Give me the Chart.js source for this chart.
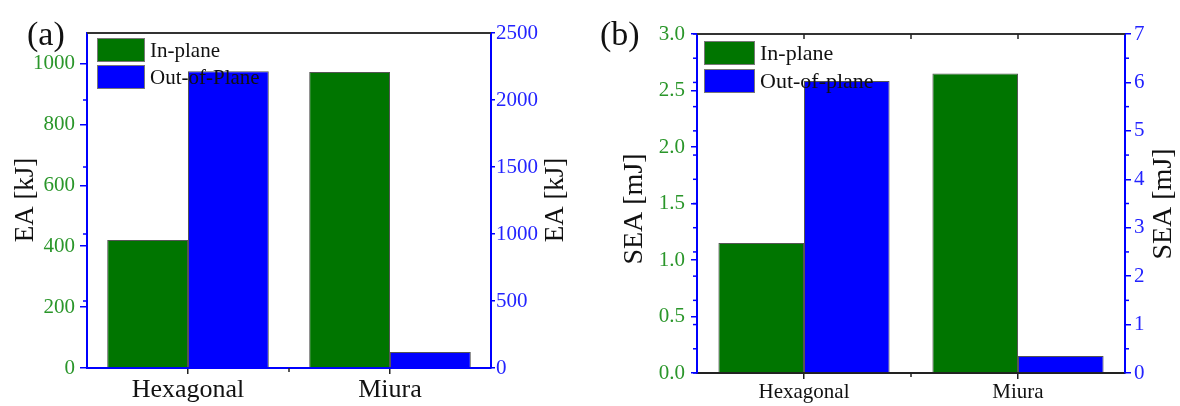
<!DOCTYPE html>
<html>
<head>
<meta charset="utf-8">
<script src="https://cdn.jsdelivr.net/npm/chart.js@4.4.0/dist/chart.umd.min.js"></script>
<style>
  body { margin: 0; background: #fff; }
  .panel { position: absolute; top: 0; width: 590px; height: 406px; }
</style>
</head>
<body>
<div class="panel" style="left:0"><canvas id="chartEA"></canvas></div>
<div class="panel" style="left:590px"><canvas id="chartSEA"></canvas></div>
<script>
// datos
const categorias = ['Hexagonal', 'Miura'];
const eaInPlane = [420, 972];          // kJ, eje izquierdo
const eaOutOfPlane = [2215, 120];      // kJ, eje derecho
const seaInPlane = [1.15, 2.65];       // mJ, eje izquierdo
const seaOutOfPlane = [6.03, 0.35];    // mJ, eje derecho

const eaTicksIzq = [0, 200, 400, 600, 800, 1000];
const eaTicksDer = [0, 500, 1000, 1500, 2000, 2500];
const seaTicksIzq = [0, 0.5, 1.0, 1.5, 2.0, 2.5, 3.0];
const seaTicksDer = [0, 1, 2, 3, 4, 5, 6, 7];
const seaMenoresDer = [0.5, 1.5, 2.5, 3.5, 4.5, 5.5, 6.5];

const VERDE = '#007500';
const AZUL = '#0000ff';
const VERDE_TXT = '#2a962a';
const AZUL_TXT = '#2323ff';
const SERIF = "'Liberation Serif', 'Times New Roman', serif";

Chart.defaults.animation = false;
Chart.defaults.font.family = SERIF;

// marco, ticks extra, leyenda y títulos
const decoracion = {
    id: 'decoracion',
    afterDraw(chart, args, o) {
        const ctx = chart.ctx;
        const a = chart.chartArea;
        ctx.save();

        // linea superior
        ctx.strokeStyle = '#333';
        ctx.lineWidth = 2;
        ctx.beginPath();
        ctx.moveTo(a.left, a.top);
        ctx.lineTo(a.right, a.top);
        ctx.stroke();

        // ticks adicionales
        o.ticksExtra.forEach(t => {
            const s = chart.scales[t.escala];
            ctx.strokeStyle = t.color;
            ctx.lineWidth = 1.5;
            t.valores.forEach(v => {
                const p = s.getPixelForValue(v);
                ctx.beginPath();
                if (t.lado === 'izq') { ctx.moveTo(a.left, p); ctx.lineTo(a.left - t.largo, p); }
                if (t.lado === 'der') { ctx.moveTo(a.right, p); ctx.lineTo(a.right + t.largo, p); }
                if (t.lado === 'arriba') { ctx.moveTo(p, a.top); ctx.lineTo(p, a.top + t.largo); }
                if (t.lado === 'abajo') { ctx.moveTo(p, a.bottom); ctx.lineTo(p, a.bottom + t.largo); }
                ctx.stroke();
            });
        });

        // leyenda
        const L = o.leyenda;
        ctx.font = L.fuente + 'px ' + SERIF;
        ctx.textBaseline = 'middle';
        ctx.textAlign = 'left';
        chart.data.datasets.forEach((ds, i) => {
            const y = L.y + i * (L.alto + L.sep);
            ctx.fillStyle = ds.backgroundColor;
            ctx.fillRect(L.x, y, L.ancho, L.alto);
            ctx.strokeStyle = '#777';
            ctx.lineWidth = 1;
            ctx.strokeRect(L.x + 0.5, y + 0.5, L.ancho - 1, L.alto - 1);
            ctx.fillStyle = '#111';
            ctx.fillText(ds.label, L.x + L.ancho + 5, y + L.alto / 2 + 1);
        });

        // títulos de ejes, girados
        ctx.fillStyle = '#111';
        ctx.textAlign = 'center';
        o.titulos.forEach(t => {
            ctx.save();
            ctx.translate(t.x, t.y);
            ctx.rotate(-Math.PI / 2);
            ctx.font = t.fuente + 'px ' + SERIF;
            ctx.fillText(t.texto, 0, 0);
            ctx.restore();
        });

        // letra del panel
        ctx.font = o.letra.fuente + 'px ' + SERIF;
        ctx.textAlign = 'left';
        ctx.fillText(o.letra.texto, o.letra.x, o.letra.y);
        ctx.restore();
    }
};

function ejeY(pos, min, max, ticks, color, ancho, fuente, decimales, largo, sep) {
    return {
        position: pos,
        min: min,
        max: max,
        z: 1,
        afterBuildTicks: s => { s.ticks = ticks.map(v => ({ value: v })); },
        afterFit: s => { s.width = ancho; },
        border: { color: AZUL, width: 2 },
        grid: { drawOnChartArea: false, tickLength: largo, color: AZUL, lineWidth: 1.5 },
        ticks: {
            color: color,
            font: { size: fuente },
            padding: sep,
            callback: v => v.toFixed(decimales)
        }
    };
}

function ejeX(colorBorde, alto, fuente) {
    return {
        offset: true,
        z: 1,
        afterFit: s => { s.height = alto; },
        border: { color: colorBorde, width: 2 },
        grid: { offset: false, drawOnChartArea: false, tickLength: 6, color: '#222', lineWidth: 1.5 },
        ticks: { color: '#111', font: { size: fuente }, padding: 1 }
    };
}

function barras(label, data, color, eje) {
    return {
        label: label,
        data: data,
        yAxisID: eje,
        backgroundColor: color,
        borderColor: '#555',
        borderWidth: 1,
        categoryPercentage: 0.8,
        barPercentage: 1.0
    };
}

new Chart(document.getElementById('chartEA'), {
    type: 'bar',
    data: {
        labels: categorias,
        datasets: [
            barras('In-plane', eaInPlane, VERDE, 'yIzq'),
            barras('Out-of-Plane', eaOutOfPlane, AZUL, 'yDer')
        ]
    },
    options: {
        responsive: true,
        maintainAspectRatio: false,
        layout: { padding: { top: 33, left: 0, right: 0, bottom: 0 } },
        plugins: {
            legend: { display: false },
            tooltip: { enabled: false },
            decoracion: {
                ticksExtra: [
                    { escala: 'yDer', valores: [500, 1000, 1500, 2000], lado: 'izq', largo: 4, color: AZUL },
                    { escala: 'x', valores: [0.5], lado: 'abajo', largo: 4, color: '#222' }
                ],
                leyenda: { x: 97, y: 38, ancho: 48, alto: 24, sep: 3, fuente: 21 },
                titulos: [
                    { texto: 'EA [kJ]', x: 26, y: 200, fuente: 27 },
                    { texto: 'EA [kJ]', x: 556, y: 200, fuente: 27 }
                ],
                letra: { texto: '(a)', x: 27, y: 36, fuente: 34 }
            }
        },
        scales: {
            x: ejeX(AZUL, 38, 26),
            yIzq: ejeY('left', 0, 1100, eaTicksIzq, VERDE_TXT, 87, 21, 0, 7, 5),
            yDer: ejeY('right', 0, 2500, eaTicksDer, AZUL_TXT, 99, 21, 0, 4, 1)
        }
    },
    plugins: [decoracion]
});

new Chart(document.getElementById('chartSEA'), {
    type: 'bar',
    data: {
        labels: categorias,
        datasets: [
            barras('In-plane', seaInPlane, VERDE, 'yIzq'),
            barras('Out-of-plane', seaOutOfPlane, AZUL, 'yDer')
        ]
    },
    options: {
        responsive: true,
        maintainAspectRatio: false,
        layout: { padding: { top: 34, left: 0, right: 0, bottom: 0 } },
        plugins: {
            legend: { display: false },
            tooltip: { enabled: false },
            decoracion: {
                ticksExtra: [
                    { escala: 'yDer', valores: seaTicksDer.concat(seaMenoresDer), lado: 'izq', largo: 4, color: AZUL },
                    { escala: 'yDer', valores: seaMenoresDer, lado: 'der', largo: 4, color: AZUL },
                    { escala: 'x', valores: [0.5], lado: 'abajo', largo: 4, color: '#222' },
                    { escala: 'x', valores: [0, 0.5, 1], lado: 'arriba', largo: 5, color: '#222' }
                ],
                leyenda: { x: 114, y: 41, ancho: 51, alto: 24, sep: 4, fuente: 22 },
                titulos: [
                    { texto: 'SEA [mJ]', x: 45, y: 209, fuente: 28 },
                    { texto: 'SEA [mJ]', x: 574, y: 204, fuente: 28 }
                ],
                letra: { texto: '(b)', x: 10, y: 36, fuente: 34 }
            }
        },
        scales: {
            x: ejeX('#222', 33, 21),
            yIzq: ejeY('left', 0, 3, seaTicksIzq, VERDE_TXT, 107, 21, 1, 6, 6),
            yDer: ejeY('right', 0, 7, seaTicksDer, AZUL_TXT, 55, 21, 0, 6, 3)
        }
    },
    plugins: [decoracion]
});
</script>
</body>
</html>
